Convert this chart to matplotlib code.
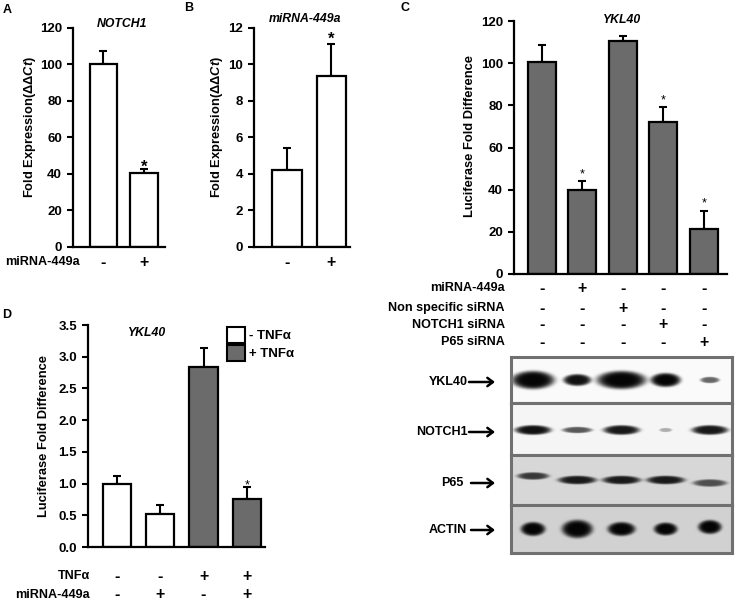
import numpy as np
import matplotlib.pyplot as plt
from matplotlib.patches import Patch, FancyArrowPatch
from matplotlib.transforms import blended_transform_factory


# 字体：用 Liberation Sans 代替 Arial
plt.rcParams["font.family"] = ["Liberation Sans", "DejaVu Sans"]
plt.rcParams["font.weight"] = "bold"
plt.rcParams["mathtext.fontset"] = "custom"
plt.rcParams["mathtext.rm"] = "Liberation Sans:bold"
plt.rcParams["mathtext.it"] = "Liberation Sans:bold:italic"
plt.rcParams["mathtext.bf"] = "Liberation Sans:bold"

FIG_W, FIG_H = 735, 604
GRAY = "#6b6b6b"

# A: NOTCH1 qPCR
a_signs = ["-", "+"]
a_values = [100.5, 40.5]
a_errors = [7.0, 2.0]
a_star = [False, True]

# B: miRNA-449a qPCR
b_signs = ["-", "+"]
b_values = [4.2, 9.35]
b_errors = [1.25, 1.8]
b_star = [False, True]

# C: YKL40 luciferase
c_values = [100.5, 40.0, 110.5, 72.0, 21.5]
c_errors = [8.0, 4.0, 2.5, 7.0, 8.5]
c_star = [False, True, False, True, True]
c_row_labels = ["miRNA-449a", "Non specific siRNA", "NOTCH1 siRNA", "P65 siRNA"]
c_row_signs = [
    ["-", "+", "-", "-", "-"],
    ["-", "-", "+", "-", "-"],
    ["-", "-", "-", "+", "-"],
    ["-", "-", "-", "-", "+"],
]

# D: YKL40 luciferase +/- TNFa
d_values = [1.0, 0.52, 2.83, 0.75]
d_errors = [0.12, 0.15, 0.30, 0.19]
d_tnf = [False, False, True, True]
d_star = [False, False, False, True]
d_row_labels = ["TNFα", "miRNA-449a"]
d_row_signs = [["-", "-", "+", "+"], ["-", "+", "-", "+"]]
d_legend = ["- TNFα", "+ TNFα"]

# western blot (band darkness per lane)
blot_names = ["YKL40", "NOTCH1", "P65", "ACTIN"]
blot_background = [0.98, 0.96, 0.84, 0.82]
blot_darkness = [
    [1.0, 0.95, 1.0, 1.0, 0.6],
    [0.95, 0.65, 0.92, 0.3, 0.92],
    [0.75, 0.9, 0.9, 0.9, 0.65],
    [1.0, 1.0, 1.0, 1.0, 1.0],
]

# 条带尺寸（像素）
band_w = [[40, 26, 46, 28, 18], [34, 28, 34, 12, 34], [30, 36, 36, 36, 32], [23, 29, 26, 22, 22]]
band_h = [[17, 11, 17, 13, 6], [9, 6, 9, 4, 9], [7, 8, 8, 8, 7], [13, 17, 13, 12, 13]]
band_dy = [[0, 0, 0, 0, 0], [1, 1, 1, 1, 1], [-4, 0, 0, 0, 3], [0, 0, 0, 0, -2]]


def fx(x):
    return x / FIG_W


def fy(y):
    return 1 - y / FIG_H


def px_axes(fig, left, top, right, bottom):
    return fig.add_axes([fx(left), fy(bottom), (right - left) / FIG_W, (bottom - top) / FIG_H])


def style_axes(ax):
    for side in ["top", "right"]:
        ax.spines[side].set_visible(False)
    for side in ["left", "bottom"]:
        ax.spines[side].set_linewidth(1.6)
    ax.tick_params(axis="y", direction="out", length=4, width=1.5, labelsize=9.5, pad=4)
    ax.tick_params(axis="x", length=0, labelbottom=False)


def draw_bars(ax, values, errors, colors, width):
    x = np.arange(len(values))
    ax.errorbar(x, values, yerr=[np.zeros(len(errors)), errors], fmt="none",
                ecolor="black", elinewidth=1.5, capsize=3, capthick=1.5, zorder=1)
    ax.bar(x, values, width=width, color=colors, edgecolor="black", linewidth=1.6, zorder=2)
    return x


def draw_stars(ax, values, errors, stars, size, weight, offset):
    for i, (v, e, s) in enumerate(zip(values, errors, stars)):
        if s:
            ax.annotate("*", xy=(i, v + e), xytext=(0, offset), textcoords="offset points",
                        ha="center", va="baseline", fontsize=size, fontweight=weight)


def sign_row(fig, ax, signs, y_px, label=None, label_x=None, size=9.1):
    trans = blended_transform_factory(ax.transData, fig.transFigure)
    for i, s in enumerate(signs):
        ax.text(i, fy(y_px), s, transform=trans, ha="center", va="center",
                fontsize=11.5, fontweight="bold")
    if label is not None:
        fig.text(fx(label_x), fy(y_px), label, ha="right", va="center", fontsize=size)


def blot_image(darkness, widths, heights, offsets, bg, nx, ny):
    yy, xx = np.mgrid[0:ny, 0:nx] + 0.5
    lane_step = nx / len(darkness)
    dark = np.zeros((ny, nx))
    for i, amp in enumerate(darkness):
        cx = (i + 0.5) * lane_step
        cy = ny / 2 + offsets[i]
        r = ((xx - cx) / (widths[i] / 2)) ** 2 + ((yy - cy) / (heights[i] / 2)) ** 2
        dark += amp * np.exp(-0.7 * r ** 3)
    return bg * (1 - 0.98 * np.clip(dark, 0, 1))


def main():
    fig = plt.figure(figsize=(FIG_W / 100, FIG_H / 100), dpi=100)

    # ---------- A ----------
    ax_a = px_axes(fig, 73, 28, 165, 247)
    style_axes(ax_a)
    draw_bars(ax_a, a_values, a_errors, "white", 0.68)
    draw_stars(ax_a, a_values, a_errors, a_star, 12, "bold", -2)
    ax_a.set_xlim(-0.75, 1.52)
    ax_a.set_ylim(0, 120)
    ax_a.set_yticks(range(0, 121, 20))
    sign_row(fig, ax_a, a_signs, 262, "miRNA-449a", 80)
    fig.text(fx(30), fy(127), r"Fold Expression($\it{ΔΔCt}$)", rotation=90,
             ha="center", va="center", fontsize=9.3)
    fig.text(fx(122), fy(24), "NOTCH1", style="italic", ha="center", va="center", fontsize=8.8)
    fig.text(fx(7), fy(10), "A", ha="center", va="center", fontsize=9)

    # ---------- B ----------
    ax_b = px_axes(fig, 254, 28, 350, 247)
    style_axes(ax_b)
    draw_bars(ax_b, b_values, b_errors, "white", 0.66)
    draw_stars(ax_b, b_values, b_errors, b_star, 12, "bold", 0)
    ax_b.set_xlim(-0.75, 1.43)
    ax_b.set_ylim(0, 12)
    ax_b.set_yticks(range(0, 13, 2))
    sign_row(fig, ax_b, b_signs, 262)
    fig.text(fx(217), fy(127), r"Fold Expression($\it{ΔΔCt}$)", rotation=90,
             ha="center", va="center", fontsize=9.3)
    fig.text(fx(305), fy(19), "miRNA-449a", style="italic", ha="center", va="center", fontsize=8.8)
    fig.text(fx(189), fy(8), "B", ha="center", va="center", fontsize=9)

    # ---------- C ----------
    ax_c = px_axes(fig, 514, 21, 727, 274)
    style_axes(ax_c)
    draw_bars(ax_c, c_values, c_errors, GRAY, 0.69)
    draw_stars(ax_c, c_values, c_errors, c_star, 9, "normal", 3)
    ax_c.set_xlim(-0.69, 4.57)
    ax_c.set_ylim(0, 120)
    ax_c.set_yticks(range(0, 121, 20))
    for label, signs, y in zip(c_row_labels, c_row_signs, [288, 308, 325, 342]):
        sign_row(fig, ax_c, signs, y, label, 505)
    fig.text(fx(470), fy(136), "Luciferase Fold Difference", rotation=90,
             ha="center", va="center", fontsize=9.3)
    fig.text(fx(622), fy(20), "YKL40", style="italic", ha="center", va="center", fontsize=8.8)
    fig.text(fx(405), fy(8), "C", ha="center", va="center", fontsize=9)

    # western blot
    rows = [357, 403, 455, 505, 553]
    label_y = [382, 432, 483, 530]
    label_end = [468, 468, 463, 467]
    arrow_start = [469, 469, 471, 471]
    for k, name in enumerate(blot_names):
        top, bottom = rows[k], rows[k + 1]
        ax_w = px_axes(fig, 511, top, 732, bottom)
        img = blot_image(blot_darkness[k], band_w[k], band_h[k], band_dy[k],
                         blot_background[k], 221, bottom - top)
        ax_w.imshow(img, cmap="gray", vmin=0, vmax=1, aspect="auto",
                    extent=(-0.5, 4.5, 1, -1), interpolation="bilinear")
        ax_w.set_xticks([])
        ax_w.set_yticks([])
        for spine in ax_w.spines.values():
            spine.set_color("#707070")
            spine.set_linewidth(2.2)
        fig.text(fx(label_end[k]), fy(label_y[k]), name, ha="right", va="center", fontsize=9)
        arrow = FancyArrowPatch((fx(arrow_start[k]), fy(label_y[k])), (fx(495), fy(label_y[k])),
                                transform=fig.transFigure, arrowstyle="->,head_length=4,head_width=3",
                                color="black", linewidth=1.8, shrinkA=0, shrinkB=0)
        fig.patches.append(arrow)

    # ---------- D ----------
    ax_d = px_axes(fig, 88, 325, 265, 547)
    style_axes(ax_d)
    d_colors = [GRAY if t else "white" for t in d_tnf]
    draw_bars(ax_d, d_values, d_errors, d_colors, 0.65)
    draw_stars(ax_d, d_values, d_errors, d_star, 9, "normal", -1)
    ax_d.set_xlim(-0.67, 3.42)
    ax_d.set_ylim(0, 3.5)
    ax_d.set_yticks(np.arange(0, 3.51, 0.5))
    ax_d.yaxis.set_major_formatter(plt.FormatStrFormatter("%.1f"))
    for label, signs, y in zip(d_row_labels, d_row_signs, [576, 595]):
        sign_row(fig, ax_d, signs, y, label, 90)
    fig.text(fx(44), fy(436), "Luciferase Fold Difference", rotation=90,
             ha="center", va="center", fontsize=9.3)
    fig.text(fx(147), fy(333), "YKL40", style="italic", ha="center", va="center", fontsize=8.8)
    fig.text(fx(7), fy(315), "D", ha="center", va="center", fontsize=9)

    handles = [Patch(facecolor="white", edgecolor="black", linewidth=1.5),
               Patch(facecolor=GRAY, edgecolor="black", linewidth=1.5)]
    fig.legend(handles, d_legend, loc="upper left", bbox_to_anchor=(fx(227), fy(327)),
               frameon=False, handlelength=1.4, handleheight=1.5, handletextpad=0.3,
               labelspacing=0.15, fontsize=9.5, borderaxespad=0, borderpad=0)

    fig.savefig("out.png", dpi=100, facecolor="white")
    plt.close(fig)


if __name__ == "__main__":
    main()
